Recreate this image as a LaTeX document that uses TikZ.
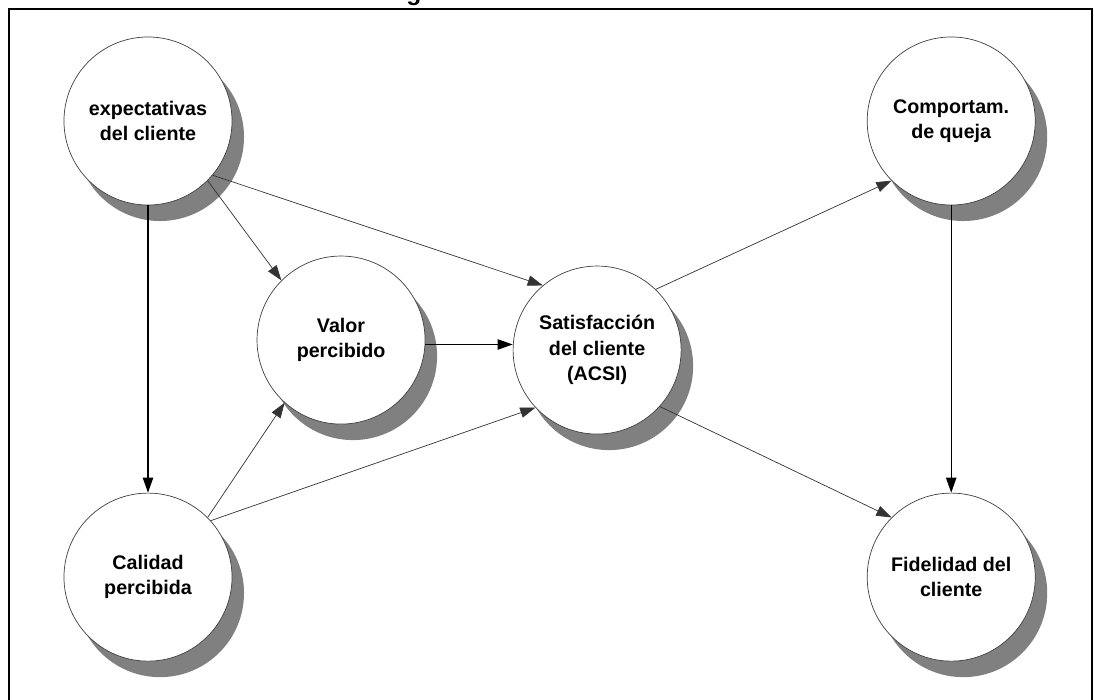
\documentclass[tikz,border=0pt]{standalone}
\usepackage{fontspec}
\setmainfont{Liberation Sans}
\usetikzlibrary{positioning}
\usetikzlibrary{arrows.meta,shadows}
\tikzset{
    >={Triangle[length=3.8mm,width=2.6mm]}, % filled arrow heads
    factor/.style={circle, draw=black!75, line width=0.5pt, fill=white,
        minimum size=4.2cm, inner sep=0pt, align=center,
        font=\fontsize{14}{18}\selectfont\bfseries,
        drop shadow={shadow xshift=0.3cm, shadow yshift=-0.4cm, fill=black!50, opacity=1}},
    every edge/.append style={->},
    weak/.style={draw=black!80, line width=0.5pt},
    strong/.style={draw=black, line width=0.9pt},
}

\begin{document}
\begin{tikzpicture}[x=0.025cm, y=-0.025cm, on grid]
            \useasboundingbox (0,0) rectangle (1094,699);

            % frame and cut title
            \draw[line width=1.5pt] (1092,710) -- (1092,9) -- (9,9) -- (9,710);
            \node[anchor=base, font=\fontsize{17.5}{20}\selectfont\bfseries] (title) at (414,0) {g};

            % left column
            \node[factor] (exp) at (148,121) {expectativas\\del cliente};
            \node[factor, below=11.4cm of exp] (cal) {Calidad\\percibida};

            % middle
            \node[factor, below right=5.475cm and 4.825cm of exp] (valor) {Valor\\percibido};
            \node[factor, below right=0.25cm and 6.4cm of valor] (sat) {Satisfacción\\del cliente\\(ACSI)};

            % right column
            \node[factor, right=20.075cm of exp] (queja) {Comportam.\\de queja};
            \node[factor, below=11.4cm of queja] (fid) {Fidelidad del\\cliente};

            \draw
            (exp.south) edge[strong] (cal.north)
            (exp.-45) edge[weak] (valor.135)
            (exp.-40) edge[weak] (sat.130)

            (cal.45) edge[weak] (valor.-132)
            (cal.42) edge[weak] (sat.-137)

            (valor.-3) edge[strong] (valor.-3 -| sat.west)

            (sat.46) edge[weak] (queja.-135)
            (sat.-42) edge[weak] (fid.135)

            (queja.south) edge[strong] (fid.north)
            ;
        \end{tikzpicture}
\end{document}
